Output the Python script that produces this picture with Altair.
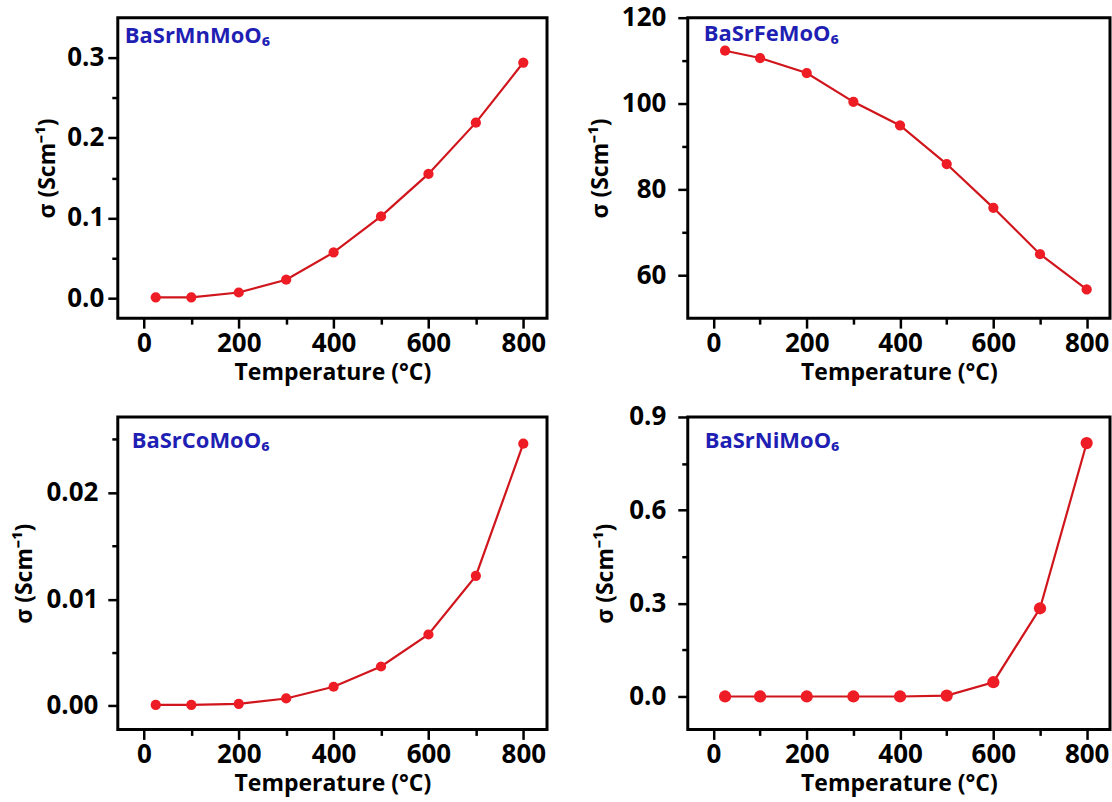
import altair as alt
import pandas as pd

# ---- data ----
temps = [25, 100, 200, 300, 400, 500, 600, 700, 800]
sigma_mn = [0.001, 0.001, 0.007, 0.023, 0.057, 0.102, 0.155, 0.219, 0.294]
sigma_fe = [112.3, 110.6, 107.1, 100.4, 94.9, 85.9, 75.7, 64.9, 56.7]
sigma_co = [0.0001, 0.0001, 0.0002, 0.0007, 0.0018, 0.0037, 0.0067, 0.0122, 0.0246]
sigma_ni = [0.0, 0.0, 0.0, 0.0, 0.0, 0.003, 0.046, 0.284, 0.816]

labels = ["BaSrMnMoO₆", "BaSrFeMoO₆", "BaSrCoMoO₆", "BaSrNiMoO₆"]

x_ticks = [0, 100, 200, 300, 400, 500, 600, 700, 800]
y_ticks_mn = [0.0, 0.05, 0.1, 0.15, 0.2, 0.25, 0.3]
y_ticks_fe = [60, 70, 80, 90, 100, 110, 120]
y_ticks_co = [0.0, 0.005, 0.01, 0.015, 0.02, 0.025]
y_ticks_ni = [0.0, 0.15, 0.3, 0.45, 0.6, 0.75, 0.9]

FONT = "Open Sans"
RED_LINE = "#d0161c"
RED_PT = "#ee1c24"
BLUE = "#1f1fb4"

x_major = "datum.value % 200 === 0"


def panel(values, label, ydom, yticks, ymajor, yfmt, w, h,
          lab_pad, title_pad, pt_size, tx, ty):
    df = pd.DataFrame({"T": temps, "s": values})
    x = alt.X(
        "T:Q",
        scale=alt.Scale(domain=[-55, 850], nice=False, zero=False),
        axis=alt.Axis(
            values=x_ticks,
            title="Temperature (°C)",
            labelExpr=f"{x_major} ? datum.label : ''",
            tickSize={"condition": {"test": x_major, "value": 10}, "value": 6},
            labelPadding=2,
            titlePadding=5,
            labelFlush=False,
        ),
    )
    y = alt.Y(
        "s:Q",
        scale=alt.Scale(domain=ydom, nice=False, zero=False),
        axis=alt.Axis(
            values=yticks,
            format=yfmt,
            title="σ (Scm⁻¹)",
            labelExpr=f"{ymajor} ? datum.label : ''",
            tickSize={"condition": {"test": ymajor, "value": 10}, "value": 6},
            labelPadding=lab_pad,
            titlePadding=title_pad,
            labelFlush=False,
        ),
    )
    line = alt.Chart(df).mark_line(color=RED_LINE, strokeWidth=2.2).encode(x=x, y=y)
    pts = alt.Chart(df).mark_circle(color=RED_PT, opacity=1, size=pt_size).encode(x=x, y=y)
    txt = alt.Chart(pd.DataFrame({"lab": [label]})).mark_text(
        font=FONT, fontWeight="bold", fontSize=22, color=BLUE,
        align="left", baseline="alphabetic",
    ).encode(x=alt.value(tx), y=alt.value(ty), text="lab:N")
    return alt.layer(line, pts, txt).properties(width=w, height=h)


p1 = panel(sigma_mn, labels[0], [-0.025, 0.35], y_ticks_mn,
           "abs(datum.value*10 - round(datum.value*10)) < 1e-6", ".1f",
           430, 301, 4, 7, 105, 7, 25)
p2 = panel(sigma_fe, labels[1], [50, 120], y_ticks_fe,
           "datum.value % 20 === 0", ".0f",
           423, 301, 12, 9, 105, 16, 23)
p3 = panel(sigma_co, labels[2], [-0.0022, 0.0271], y_ticks_co,
           "abs(datum.value*100 - round(datum.value*100)) < 1e-6", ".2f",
           430, 313, 10, 9, 105, 14, 31)
p4 = panel(sigma_ni, labels[3], [-0.106, 0.9], y_ticks_ni,
           "abs(datum.value/0.3 - round(datum.value/0.3)) < 1e-6", ".1f",
           423, 313, 12, 11, 150, 17, 31)

chart = alt.concat(
    p1, p2, p3, p4, columns=2, bounds="flush", align="each",
    spacing={"row": 99, "column": 141},
).properties(
    padding={"left": 12, "top": 2, "right": 0, "bottom": 0},
    background="white",
).configure_view(
    stroke="black", strokeWidth=3
).configure_axis(
    grid=False,
    domain=False,
    tickColor="black",
    tickWidth=2.5,
    labelFont=FONT,
    labelFontWeight="bold",
    labelFontSize=26,
    labelColor="black",
    titleFont=FONT,
    titleFontWeight="bold",
    titleFontSize=23,
    titleColor="black",
)

chart.save("out.html", embed_options={"renderer": "svg", "actions": False})
